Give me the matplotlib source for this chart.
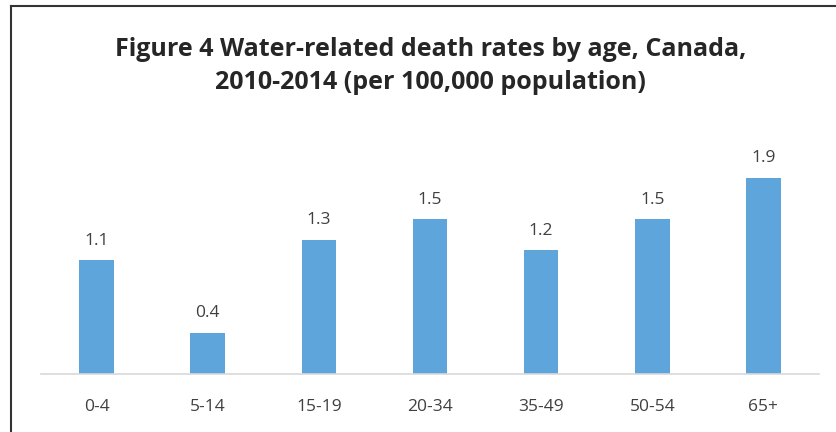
import matplotlib.pyplot as plt
from matplotlib.lines import Line2D

ages = ["0-4", "5-14", "15-19", "20-34", "35-49", "50-54", "65+"]
rates = [1.1, 0.4, 1.3, 1.5, 1.2, 1.5, 1.9]

plt.rcParams["font.family"] = ["Open Sans", "DejaVu Sans"]
text_color = "#404040"

fig = plt.figure(figsize=(8.37, 4.32), dpi=100)
ax = fig.add_axes([0.049, 0.134, 0.9295, 0.479])

x = range(len(ages))
bars = ax.bar(x, rates, width=0.31, color="#5DA5DA")
for xi, v in zip(x, rates):
    ax.text(xi, v + 0.11, f"{v:.1f}", ha="center", va="bottom",
            fontsize=12.5, color=text_color)

ax.set_xlim(-0.5, len(ages) - 0.5)
ax.set_ylim(0, 2.0)
ax.set_xticks(list(x))
ax.set_xticklabels(ages, fontsize=12.5, color=text_color)
ax.tick_params(axis="x", length=0, pad=18)
ax.set_yticks([])
for s in ["top", "right", "left"]:
    ax.spines[s].set_visible(False)
ax.spines["bottom"].set_color("#d9d9d9")
ax.spines["bottom"].set_linewidth(1.2)

fig.text(0.514, 0.886, "Figure 4 Water-related death rates by age, Canada,",
         ha="center", va="center", fontsize=18, fontweight="bold", color="#262626")
fig.text(0.514, 0.808, "2010-2014 (per 100,000 population)",
         ha="center", va="center", fontsize=18, fontweight="bold", color="#262626")

# outer frame (left and top edges only)
fig.add_artist(Line2D([0.0137, 0.0137], [0.0, 0.986], transform=fig.transFigure,
                      color="#333333", linewidth=1.5))
fig.add_artist(Line2D([0.0137, 1.0], [0.986, 0.986], transform=fig.transFigure,
                      color="#333333", linewidth=1.5))

fig.savefig("out.png", dpi=100)
